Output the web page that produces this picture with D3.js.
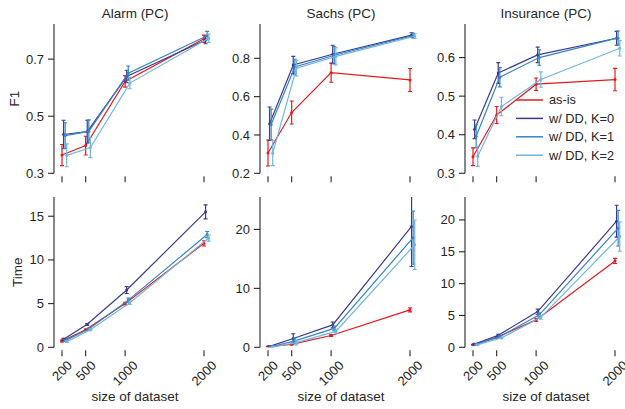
<!DOCTYPE html>
<html>
<head>
<meta charset="utf-8">
<script src="https://cdn.jsdelivr.net/npm/d3@7"></script>
<style>
    body { margin: 0; background: #fff; }
    svg text { font-family: "Liberation Sans", Arial, sans-serif; fill: #262626; }
</style>
</head>
<body>
<script>
// ================================
// DATA
// ================================

var sizes = [200, 500, 1000, 2000];
var seriesNames = ["as-is", "w/ DD, K=0", "w/ DD, K=1", "w/ DD, K=2"];
var seriesColors = ["#e41a1c", "#3b3b8e", "#3585c6", "#72b5df"];
var dodge = [0, 20, 40, 60];   // small x shift per series, in dataset units

var titles = ["Alarm (PC)", "Sachs (PC)", "Insurance (PC)"];

// F1, rows = series (as-is, K=0, K=1, K=2), cols = sizes
var alarmF1 = [
    [0.364, 0.397, 0.622, 0.771],
    [0.436, 0.446, 0.639, 0.767],
    [0.432, 0.447, 0.651, 0.782],
    [0.363, 0.390, 0.616, 0.773]
];
var alarmF1Err = [
    [0.037, 0.033, 0.020, 0.013],
    [0.050, 0.040, 0.022, 0.013],
    [0.045, 0.040, 0.025, 0.015],
    [0.040, 0.035, 0.020, 0.015]
];
var sachsF1 = [
    [0.306, 0.517, 0.725, 0.687],
    [0.459, 0.765, 0.821, 0.921],
    [0.455, 0.755, 0.816, 0.918],
    [0.305, 0.748, 0.810, 0.915]
];
var sachsF1Err = [
    [0.068, 0.060, 0.050, 0.060],
    [0.087, 0.045, 0.047, 0.012],
    [0.080, 0.040, 0.045, 0.012],
    [0.065, 0.040, 0.045, 0.012]
];
var insuranceF1 = [
    [0.343, 0.451, 0.531, 0.543],
    [0.414, 0.560, 0.607, 0.650],
    [0.396, 0.549, 0.600, 0.651],
    [0.344, 0.473, 0.543, 0.624]
];
var insuranceF1Err = [
    [0.023, 0.022, 0.016, 0.029],
    [0.024, 0.027, 0.020, 0.018],
    [0.030, 0.025, 0.020, 0.018],
    [0.026, 0.024, 0.020, 0.020]
];

// running time
var alarmTime = [
    [0.72, 2.0, 5.0, 11.9],
    [0.92, 2.63, 6.56, 15.5],
    [0.76, 2.1, 5.4, 12.9],
    [0.65, 2.0, 5.1, 12.5]
];
var alarmTimeErr = [
    [0.1, 0.1, 0.15, 0.3],
    [0.1, 0.1, 0.4, 0.8],
    [0.1, 0.1, 0.25, 0.35],
    [0.1, 0.1, 0.2, 0.35]
];
var sachsTime = [
    [0.1, 0.5, 2.0, 6.36],
    [0.15, 1.5, 3.8, 20.5],
    [0.1, 1.1, 3.2, 18.6],
    [0.05, 0.8, 2.7, 17.4]
];
var sachsTimeErr = [
    [0.05, 0.1, 0.15, 0.35],
    [0.05, 0.8, 0.5, 6.8],
    [0.05, 0.5, 0.4, 4.5],
    [0.05, 0.4, 0.4, 4.2]
];
var insuranceTime = [
    [0.42, 1.57, 4.3, 13.56],
    [0.52, 1.9, 5.6, 19.8],
    [0.45, 1.67, 5.1, 18.7],
    [0.40, 1.47, 4.7, 17.4]
];
var insuranceTimeErr = [
    [0.05, 0.1, 0.25, 0.4],
    [0.05, 0.15, 0.4, 2.5],
    [0.05, 0.12, 0.3, 2.8],
    [0.05, 0.1, 0.3, 2.3]
];

// axis limits + ticks
var f1Domains = [[0.3, 0.823], [0.2, 0.979], [0.3, 0.687]];
var f1Ticks = [[0.3, 0.5, 0.7], [0.2, 0.4, 0.6, 0.8], [0.3, 0.4, 0.5, 0.6]];
var timeDomains = [[0, 17.2], [0, 25.5], [0, 23.6]];
var timeTicks = [[0, 5, 10, 15], [0, 10, 20], [0, 5, 10, 15, 20]];


// ================================
// SETUP
// ================================

var width = 625,
    height = 409;

var axisLeft = [54, 260, 465];   // y spine position for each column
var rows = [
    { top: 24, bottom: 173.3, label: "F1", values: [alarmF1, sachsF1, insuranceF1],
      errs: [alarmF1Err, sachsF1Err, insuranceF1Err], domains: f1Domains, ticks: f1Ticks,
      fmt: d3.format(".1f") },
    { top: 197, bottom: 347.3, label: "Time", values: [alarmTime, sachsTime, insuranceTime],
      errs: [alarmTimeErr, sachsTimeErr, insuranceTimeErr], domains: timeDomains, ticks: timeTicks,
      fmt: d3.format("d") }
];

var svg = d3.select("body")
    .append("svg")
    .attr("width", width)
    .attr("height", height);

var defs = svg.append("defs");

rows.forEach(function(row, r){
    for (var c = 0; c < 3; c++){
        drawPanel(row, r, c);
    }
});

drawLegend();


// ================================
// ONE PANEL
// ================================
function drawPanel(row, r, c){

    var x0 = axisLeft[c];

    var x = d3.scaleLinear()
        .domain([200, 2000])
        .range([x0 + 8, x0 + 150]);

    var y = d3.scaleLinear()
        .domain(row.domains[c])
        .range([row.bottom, row.top]);

    var g = svg.append("g");

    // y spine
    g.append("line")
        .attr("x1", x0).attr("x2", x0)
        .attr("y1", row.top).attr("y2", row.bottom)
        .attr("stroke", "#262626")
        .attr("stroke-width", 1.1);

    // y ticks
    var yt = g.selectAll(".ytick")
        .data(row.ticks[c])
        .enter()
        .append("g")
        .attr("transform", function(d){ return "translate(0," + y(d) + ")"; });

    yt.append("line")
        .attr("x1", x0 - 6).attr("x2", x0)
        .attr("stroke", "#262626")
        .attr("stroke-width", 1.1);

    yt.append("text")
        .attr("x", x0 - 10)
        .attr("dy", "0.35em")
        .attr("text-anchor", "end")
        .style("font-size", "13px")
        .text(row.fmt);

    // x ticks (no bottom spine)
    g.selectAll(".xtick")
        .data(sizes)
        .enter()
        .append("line")
        .attr("x1", function(d){ return x(d); })
        .attr("x2", function(d){ return x(d); })
        .attr("y1", row.bottom + 3)
        .attr("y2", row.bottom + 9)
        .attr("stroke", "#262626")
        .attr("stroke-width", 1.1);

    // rotated labels only on bottom row
    if (r === 1){
        g.selectAll(".xlab")
            .data(sizes)
            .enter()
            .append("text")
            .attr("text-anchor", "middle")
            .attr("dominant-baseline", "central")
            .style("font-size", "13px")
            .text(function(d){ return d; })
            .attr("transform", function(d){
                var w = this.getComputedTextLength();
                var half = (w + 13) * 0.7071 / 2;
                return "translate(" + x(d) + "," + (row.bottom + 11 + half) + ") rotate(-45)";
            });

        g.append("text")
            .attr("x", x0 + 81)
            .attr("y", 401)
            .attr("text-anchor", "middle")
            .style("font-size", "13.5px")
            .text("size of dataset");
    } else {
        g.append("text")
            .attr("x", x0 + 81)
            .attr("y", 18)
            .attr("text-anchor", "middle")
            .style("font-size", "13.5px")
            .text(titles[c]);
    }

    // y label on first column
    if (c === 0){
        g.append("text")
            .attr("transform", "translate(" + (r === 0 ? 19 : 22) + "," + ((row.top + row.bottom) / 2) + ") rotate(-90)")
            .attr("text-anchor", "middle")
            .style("font-size", "13.5px")
            .text(row.label);
    }

    // clip to the axes area
    var clipId = "clip" + r + c;
    defs.append("clipPath")
        .attr("id", clipId)
        .append("rect")
        .attr("x", x0)
        .attr("y", row.top)
        .attr("width", 160)
        .attr("height", row.bottom - row.top);

    var plot = g.append("g").attr("clip-path", "url(#" + clipId + ")");

    var line = d3.line()
        .x(function(d){ return x(d.size + d.shift); })
        .y(function(d){ return y(d.value); });

    row.values[c].forEach(function(vals, s){

        var pts = sizes.map(function(size, i){
            return { size: size, shift: dodge[s], value: vals[i], err: row.errs[c][s][i] };
        });

        var sg = plot.append("g");

        sg.append("path")
            .datum(pts)
            .attr("d", line)
            .attr("fill", "none")
            .attr("stroke", seriesColors[s])
            .attr("stroke-width", 1.2);

        var eb = sg.selectAll(".err")
            .data(pts)
            .enter()
            .append("g");

        eb.append("line")
            .attr("x1", function(d){ return x(d.size + d.shift); })
            .attr("x2", function(d){ return x(d.size + d.shift); })
            .attr("y1", function(d){ return y(d.value - d.err); })
            .attr("y2", function(d){ return y(d.value + d.err); })
            .attr("stroke", seriesColors[s])
            .attr("stroke-width", 1.2);

        [-1, 1].forEach(function(sign){
            eb.append("line")
                .attr("x1", function(d){ return x(d.size + d.shift) - 2; })
                .attr("x2", function(d){ return x(d.size + d.shift) + 2; })
                .attr("y1", function(d){ return y(d.value + sign * d.err); })
                .attr("y2", function(d){ return y(d.value + sign * d.err); })
                .attr("stroke", seriesColors[s])
                .attr("stroke-width", 1.1);
        });

        eb.append("circle")
            .attr("cx", function(d){ return x(d.size + d.shift); })
            .attr("cy", function(d){ return y(d.value); })
            .attr("r", 1.5)
            .attr("fill", seriesColors[s]);
    });
}


// ================================
// LEGEND
// ================================
function drawLegend(){

    var legend = svg.append("g")
        .attr("transform", "translate(516,100)");

    var items = legend.selectAll(".item")
        .data(seriesNames)
        .enter()
        .append("g")
        .attr("transform", function(d, i){ return "translate(0," + (i * 18.4) + ")"; });

    items.append("line")
        .attr("x1", 0).attr("x2", 27)
        .attr("stroke", function(d, i){ return seriesColors[i]; })
        .attr("stroke-width", 1.5);

    items.append("text")
        .attr("x", 33)
        .attr("dy", "0.35em")
        .style("font-size", "12.8px")
        .text(function(d){ return d; });
}
</script>
</body>
</html>
